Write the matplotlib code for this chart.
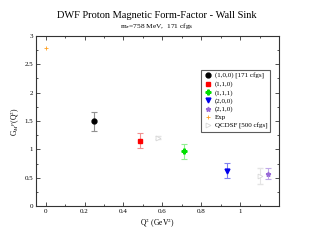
import numpy as np
import matplotlib.pyplot as plt
from matplotlib.ticker import MultipleLocator

plt.rcParams['font.family'] = ['Liberation Serif', 'DejaVu Serif']
plt.rcParams['mathtext.fontset'] = 'stix'

# data
labels = ['(1,0,0) [171 cfgs]', '(1,1,0)', '(1,1,1)', '(2,0,0)', '(2,1,0)']
q2 = [0.248, 0.486, 0.712, 0.933, 1.145]
gm = [1.495, 1.15, 0.965, 0.623, 0.57]
gm_err = [0.17, 0.13, 0.13, 0.13, 0.10]
colors = ['black', 'red', '#00e000', '#0000ee', '#9a6ad8']
err_colors = ['#909090', '#f09090', '#90f090', '#8080f0', '#c0a8e8']
markers = ['o', 's', 'P', 'v', '*']

exp_q2 = [0.0]
exp_gm = [2.79]

qcdsf_q2 = [0.576, 1.102]
qcdsf_gm = [1.205, 0.535]
qcdsf_err = [0.03, 0.14]

xticks = [0, 0.2, 0.4, 0.6, 0.8, 1]
xticklabels = ['0', '0.2', '0.4', '0.6', '0.8', '1']
yticks = [0, 0.5, 1, 1.5, 2, 2.5, 3]
yticklabels = ['0', '0.5', '1', '1.5', '2', '2.5', '3']

fig = plt.figure(figsize=(3.14, 2.43), dpi=100)
ax = fig.add_axes([36/314, 1-206/243, 243/314, 170/243])

handles = []
for i in range(len(labels)):
    ax.errorbar(q2[i], gm[i], yerr=gm_err[i], fmt='none',
                ecolor=err_colors[i], capsize=2, elinewidth=0.8,
                capthick=0.8, zorder=2)
    h, = ax.plot(q2[i], gm[i], markers[i], color=colors[i], ms=3.5,
                 label=labels[i], zorder=3)
    handles.append(h)

h, = ax.plot(exp_q2, exp_gm, '+', color='#ffa020', ms=3.5, mew=0.6, label='Exp')
handles.append(h)
ax.errorbar(qcdsf_q2, qcdsf_gm, yerr=qcdsf_err, fmt='none', ecolor='#e4e4e4',
            capsize=2, elinewidth=0.8)
h, = ax.plot(qcdsf_q2, qcdsf_gm, '>', mfc='white', mec='#d8d8d8', ms=3.5,
             mew=0.6, label='QCDSF [500 cfgs]')
handles.append(h)

ax.set_xlim(-0.05, 1.2)
ax.set_ylim(0, 3)
ax.set_xticks(xticks)
ax.set_xticklabels(xticklabels)
ax.set_yticks(yticks)
ax.set_yticklabels(yticklabels)
ax.xaxis.set_minor_locator(MultipleLocator(0.1))
ax.yaxis.set_minor_locator(MultipleLocator(0.25))
ax.tick_params(which='both', direction='in', top=True, right=True,
               labelsize=5, width=0.6, pad=2, color='#333333')
ax.tick_params(which='major', length=3)
ax.tick_params(which='minor', length=1.5)
for s in ax.spines.values():
    s.set_linewidth(0.8)
    s.set_color('#333333')

ax.set_xlabel('Q$^2$ (GeV$^2$)', fontsize=5.5, labelpad=2)
ax.set_ylabel('G$_M$$^p$(Q$^2$)', fontsize=5.5, labelpad=2)

fig.text(0.5, 1-16/243, 'DWF Proton Magnetic Form-Factor - Wall Sink',
         ha='center', va='center', fontsize=7.5)
fig.text(0.5, 1-26/243, 'm$_\\pi$=758 MeV,  171 cfgs',
         ha='center', va='center', fontsize=5.3)

leg = ax.legend(handles=handles, loc='upper left', bbox_to_anchor=(0.679, 0.8),
                borderaxespad=0, fontsize=5, frameon=True, fancybox=False,
                edgecolor='#333333', handletextpad=0.4, borderpad=0.4,
                labelspacing=0.3, handlelength=1.2, numpoints=1)
leg.get_frame().set_linewidth(0.8)

fig.savefig('out.png', dpi=100)
